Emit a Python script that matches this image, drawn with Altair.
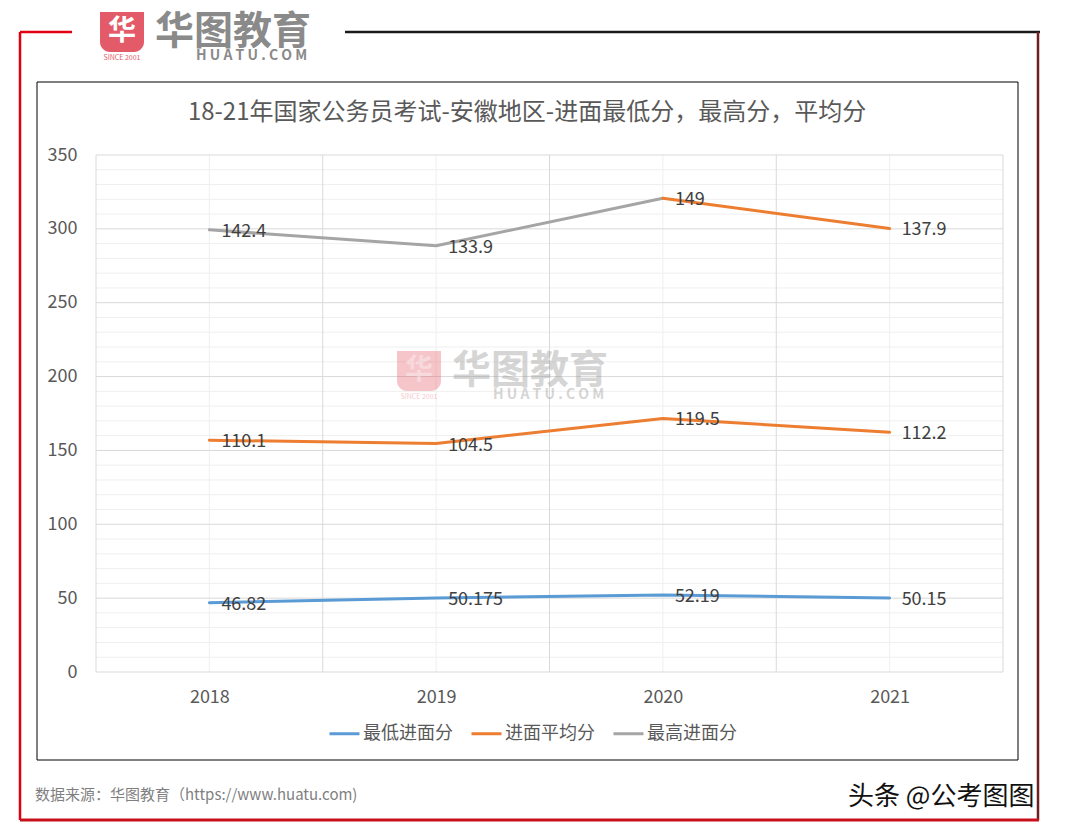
import altair as alt
import pandas as pd

# ---- data ----
years = [2018, 2019, 2020, 2021]
series_names = ["最低进面分", "进面平均分", "最高进面分"]
min_scores = [46.82, 50.175, 52.19, 50.15]
avg_scores = [110.1, 104.5, 119.5, 112.2]
max_scores = [142.4, 133.9, 149, 137.9]
series_colors = ["#5B9BD5", "#ED7D31", "#A5A5A5"]
y_ticks = [0, 50, 100, 150, 200, 250, 300, 350]

title_text = "18-21年国家公务员考试-安徽地区-进面最低分，最高分，平均分"
source_text = "数据来源：华图教育（https://www.huatu.com)"
brand_text = "头条 @公考图图"

FONT = "Noto Sans CJK SC"

# ---- build tables (stacked lines, as in the source) ----
rows_line, rows_label = [], []
for i, y in enumerate(years):
    c1 = min_scores[i]
    c2 = c1 + avg_scores[i]
    c3 = c2 + max_scores[i]
    for name, cum, raw in zip(series_names, [c1, c2, c3], [min_scores[i], avg_scores[i], max_scores[i]]):
        rows_label.append({"v": y, "cum": cum, "label": f"{raw:g}"})
    rows_line.append({"v": y, "cum": c1, "grp": "a", "col": series_names[0]})
    rows_line.append({"v": y, "cum": c2, "grp": "b", "col": series_names[1]})
    # top line: grey up to 2020, last segment drawn orange in the source
    if y <= 2020:
        rows_line.append({"v": y, "cum": c3, "grp": "c", "col": series_names[2]})
    if y >= 2020:
        rows_line.append({"v": y, "cum": c3, "grp": "d", "col": series_names[1]})
line_df = pd.DataFrame(rows_line)
label_df = pd.DataFrame(rows_label)

major_h = pd.DataFrame({"cum": y_ticks})
minor_h = pd.DataFrame({"cum": [v for v in range(0, 351, 10) if v % 50]})
major_v = pd.DataFrame({"v": [y - 0.5 for y in years] + [years[-1] + 0.5]})
minor_v = pd.DataFrame({"v": years})
one = pd.DataFrame({"k": [0]})

xs = alt.Scale(domain=[2017.5, 2021.5], nice=False, zero=False)
ys = alt.Scale(domain=[0, 350], nice=False)
XA = alt.Axis(values=years, format="d", grid=False, ticks=False, domain=False,
              labelFontSize=18, labelColor="#595959", labelPadding=16,
              labelFlush=False, title=None)
YA = alt.Axis(values=y_ticks, grid=False, ticks=False, domain=False,
              labelFontSize=18, labelColor="#595959", labelPadding=19, title=None)
X = alt.X("v:Q", scale=xs, axis=XA)
Y = alt.Y("cum:Q", scale=ys, axis=YA)

g_minor_h = alt.Chart(minor_h).mark_rule(color="#EFEFEF", strokeWidth=1).encode(y=Y)
g_minor_v = alt.Chart(minor_v).mark_rule(color="#EFEFEF", strokeWidth=1).encode(x=X)
g_major_h = alt.Chart(major_h).mark_rule(color="#D9D9D9", strokeWidth=1).encode(y=Y)
g_major_v = alt.Chart(major_v).mark_rule(color="#D9D9D9", strokeWidth=1).encode(x=X)

lines = alt.Chart(line_df).mark_line(strokeWidth=3, strokeCap="round", strokeJoin="round").encode(
    x=X, y=Y,
    color=alt.Color("col:N", scale=alt.Scale(domain=series_names, range=series_colors),
                    legend=alt.Legend(title=None, orient="none", legendX=232, legendY=562,
                                      direction="horizontal", symbolType="stroke",
                                      symbolSize=900, symbolStrokeWidth=3,
                                      labelFontSize=18, labelColor="#595959",
                                      labelFont=FONT, columnPadding=12, labelOffset=2)),
    detail="grp:N",
)

labels = alt.Chart(label_df).mark_text(align="left", baseline="middle", dx=12, dy=2,
                                       fontSize=18, color="#404040", font=FONT).encode(
    x=X, y=Y, text="label:N")


def txt(s, x, y, size, color, weight="normal", align="left", opacity=1.0, baseline="middle"):
    return alt.Chart(one).mark_text(text=s, fontSize=size, color=color, fontWeight=weight,
                                    align=align, baseline=baseline, font=FONT,
                                    opacity=opacity).encode(x=alt.value(x), y=alt.value(y))


def hrule(x1, x2, y, color, w):
    return alt.Chart(one).mark_rule(color=color, strokeWidth=w).encode(
        x=alt.value(x1), x2=alt.value(x2), y=alt.value(y))


def vrule(x, y1, y2, color, w):
    return alt.Chart(one).mark_rule(color=color, strokeWidth=w).encode(
        x=alt.value(x), y=alt.value(y1), y2=alt.value(y2))


def logo(x0, y0, opacity):
    # x0, y0: top-left of icon in plot coordinates
    icon = alt.Chart(one).mark_rect(color="#E35A68", cornerRadiusBottomLeft=10,
                                    cornerRadiusBottomRight=10, opacity=opacity).encode(
        x=alt.value(x0), x2=alt.value(x0 + 44), y=alt.value(y0), y2=alt.value(y0 + 40))
    return [
        icon,
        txt("华", x0 + 22, y0 + 20, 28, "white", "bold", "center", opacity),
        txt("SINCE 2001", x0 + 22, y0 + 46, 7, "#E35A68", "normal", "center", opacity),
        txt("华图教育", x0 + 55, y0 + 20, 39, "#8A8A8A", "bold", "left", opacity),
        txt("H U A T U . C O M", x0 + 96, y0 + 44, 14, "#8A8A8A", "bold", "left", opacity),
    ]


deco = [
    # inner chart border
    alt.Chart(one).mark_rect(fill="white", fillOpacity=0, stroke="#000000", strokeWidth=1).encode(
        x=alt.value(-59), x2=alt.value(922), y=alt.value(-73), y2=alt.value(605)),
    # outer frame
    vrule(-76, -123, 665, "#E00012", 2.5),
    hrule(-76, -24, -123, "#E00012", 2.5),
    hrule(249, 944, -123, "#1A1A1A", 2.5),
    vrule(942, -123, 665, "#6E1F1F", 2.5),
    hrule(-76, 943, 665, "#C8101C", 3),
    # title and texts
    txt(title_text, 431, -42, 24, "#595959", align="center"),
    txt(source_text, -61, 640, 15, "#7F7F7F"),
    txt(brand_text, 752, 642, 26, "#111111"),
]

layers = [g_minor_h, g_minor_v, g_major_h, g_major_v] + logo(301, 196, 0.35) + \
    [lines, labels] + deco + logo(4, -143, 1.0)

chart = alt.layer(*layers).properties(
    width=907, height=517,
    autosize=alt.AutoSizeParams(type="none"),
    padding={"left": 88, "top": 147, "right": 52, "bottom": 152},
).configure(font=FONT).configure_view(stroke=None)

chart.save("out.html", embed_options={"renderer": "svg", "actions": False})
